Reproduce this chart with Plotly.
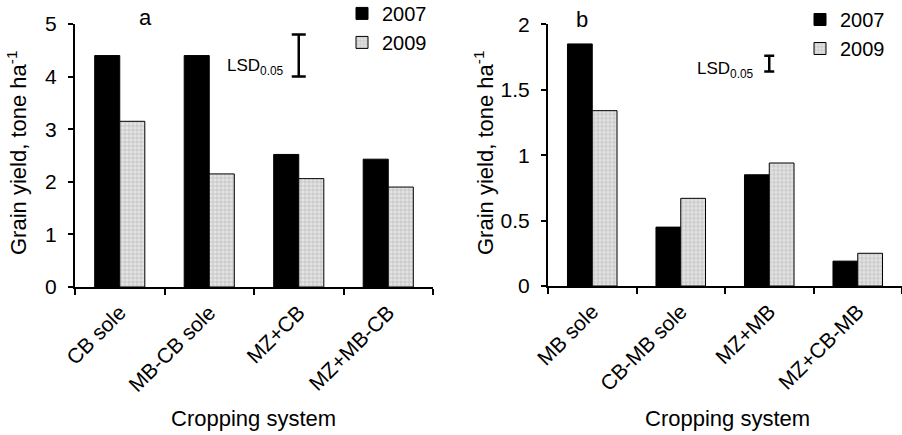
import plotly.graph_objects as go

# ---- data ----
cats_a = ["CB sole", "MB-CB sole", "MZ+CB", "MZ+MB-CB"]
a_2007 = [4.40, 4.40, 2.52, 2.43]
a_2009 = [3.15, 2.15, 2.06, 1.90]
lsd_a_cat = "MZ+CB"
lsd_a_center = 4.40
lsd_a_half = 0.40

cats_b = ["MB sole", "CB-MB sole", "MZ+MB", "MZ+CB-MB"]
b_2007 = [1.85, 0.45, 0.85, 0.19]
b_2009 = [1.34, 0.67, 0.94, 0.25]
lsd_b_cat = "MZ+MB"
lsd_b_center = 1.70
lsd_b_half = 0.06

years = ["2007", "2009"]

FONT = "Liberation Sans, Arial, Helvetica, sans-serif"
W, H = 902, 435

fig = go.Figure()

pat = dict(shape="+", fgcolor="#9a9a9a", bgcolor="#e4e4e4", size=4, solidity=0.35)

def add_panel(cats, v07, v09, xa, ya, leg):
    fig.add_trace(go.Bar(x=cats, y=v07, name=years[0], xaxis=xa, yaxis=ya,
                         marker=dict(color="black", line=dict(color="black", width=1)),
                         legend=leg))
    fig.add_trace(go.Bar(x=cats, y=v09, name=years[1], xaxis=xa, yaxis=ya,
                         marker=dict(color="#e4e4e4", pattern=pat,
                                     line=dict(color="black", width=1)),
                         legend=leg))

add_panel(cats_a, a_2007, a_2009, "x", "y", "legend")
add_panel(cats_b, b_2007, b_2009, "x2", "y2", "legend2")

# LSD bars
fig.add_trace(go.Scatter(x=[lsd_a_cat], y=[lsd_a_center], xaxis="x", yaxis="y",
                         mode="markers", marker=dict(size=0.1, color="black"),
                         error_y=dict(type="constant", value=lsd_a_half, color="black",
                                      thickness=2.5, width=7),
                         showlegend=False, hoverinfo="skip"))
fig.add_trace(go.Scatter(x=[lsd_b_cat], y=[lsd_b_center], xaxis="x2", yaxis="y2",
                         mode="markers", marker=dict(size=0.1, color="black"),
                         error_y=dict(type="constant", value=lsd_b_half, color="black",
                                      thickness=2.5, width=5),
                         showlegend=False, hoverinfo="skip"))

xcommon = dict(type="category", showline=True, linecolor="black", linewidth=2,
               ticks="outside", tickson="boundaries", ticklen=6, tickwidth=2,
               tickcolor="black", tickangle=-45, automargin=False,
               ticklabelstandoff=3,
               tickfont=dict(family=FONT, size=21, color="black"),
               showgrid=False, zeroline=False, fixedrange=True)
ycommon = dict(showline=True, linecolor="black", linewidth=2, ticks="outside",
               ticklen=5, tickwidth=2, tickcolor="black", automargin=False,
               ticklabelstandoff=7,
               tickfont=dict(family=FONT, size=21, color="black"),
               showgrid=False, zeroline=False, fixedrange=True)

fig.update_layout(
    width=W, height=H,
    margin=dict(l=0, r=0, t=0, b=0, autoexpand=False),
    paper_bgcolor="white", plot_bgcolor="white",
    barmode="group", bargap=0.44, bargroupgap=0,
    font=dict(family=FONT, color="black"),
    xaxis=dict(domain=[75 / W, 433 / W], anchor="y", **xcommon),
    yaxis=dict(domain=[1 - 287 / H, 1 - 24 / H], anchor="x", range=[0, 5], dtick=1, **ycommon),
    xaxis2=dict(domain=[548 / W, 1.0], anchor="y2", **xcommon),
    yaxis2=dict(domain=[1 - 286 / H, 1 - 24.3 / H], anchor="x2", range=[0, 2], dtick=0.5, **ycommon),
    legend=dict(x=342 / W, y=1.014, xanchor="left", yanchor="top",
                font=dict(family=FONT, size=20, color="black"),
                bgcolor="rgba(0,0,0,0)", itemwidth=30, tracegroupgap=0,
                traceorder="normal"),
    legend2=dict(x=800 / W, y=1.0, xanchor="left", yanchor="top",
                 font=dict(family=FONT, size=20, color="black"),
                 bgcolor="rgba(0,0,0,0)", itemwidth=30, tracegroupgap=0,
                 traceorder="normal"),
    showlegend=True,
)

def note(text, x, y, size, angle=0, xanchor="center", yanchor="middle"):
    return dict(text=text, x=x / W, y=1 - y / H, xref="paper", yref="paper",
                xanchor=xanchor, yanchor=yanchor, textangle=angle,
                showarrow=False, font=dict(size=size, family=FONT, color="black"))

ann = [
    note("a", 145, 18, 22),
    note("b", 582, 20, 22),
    note("Grain yield, tone ha<sup>-1</sup>", 17, 153, 22, angle=-90),
    note("Grain yield, tone ha<sup>-1</sup>", 484, 153, 22, angle=-90),
    note("Cropping system", 253, 418, 22),
    note("Cropping system", 727, 418, 22),
    note("LSD<sub>0.05</sub>", 286, 67, 17, xanchor="right"),
    note("LSD<sub>0.05</sub>", 756, 70, 17, xanchor="right"),
]

fig.update_layout(annotations=ann)
fig.write_html("out.html")
